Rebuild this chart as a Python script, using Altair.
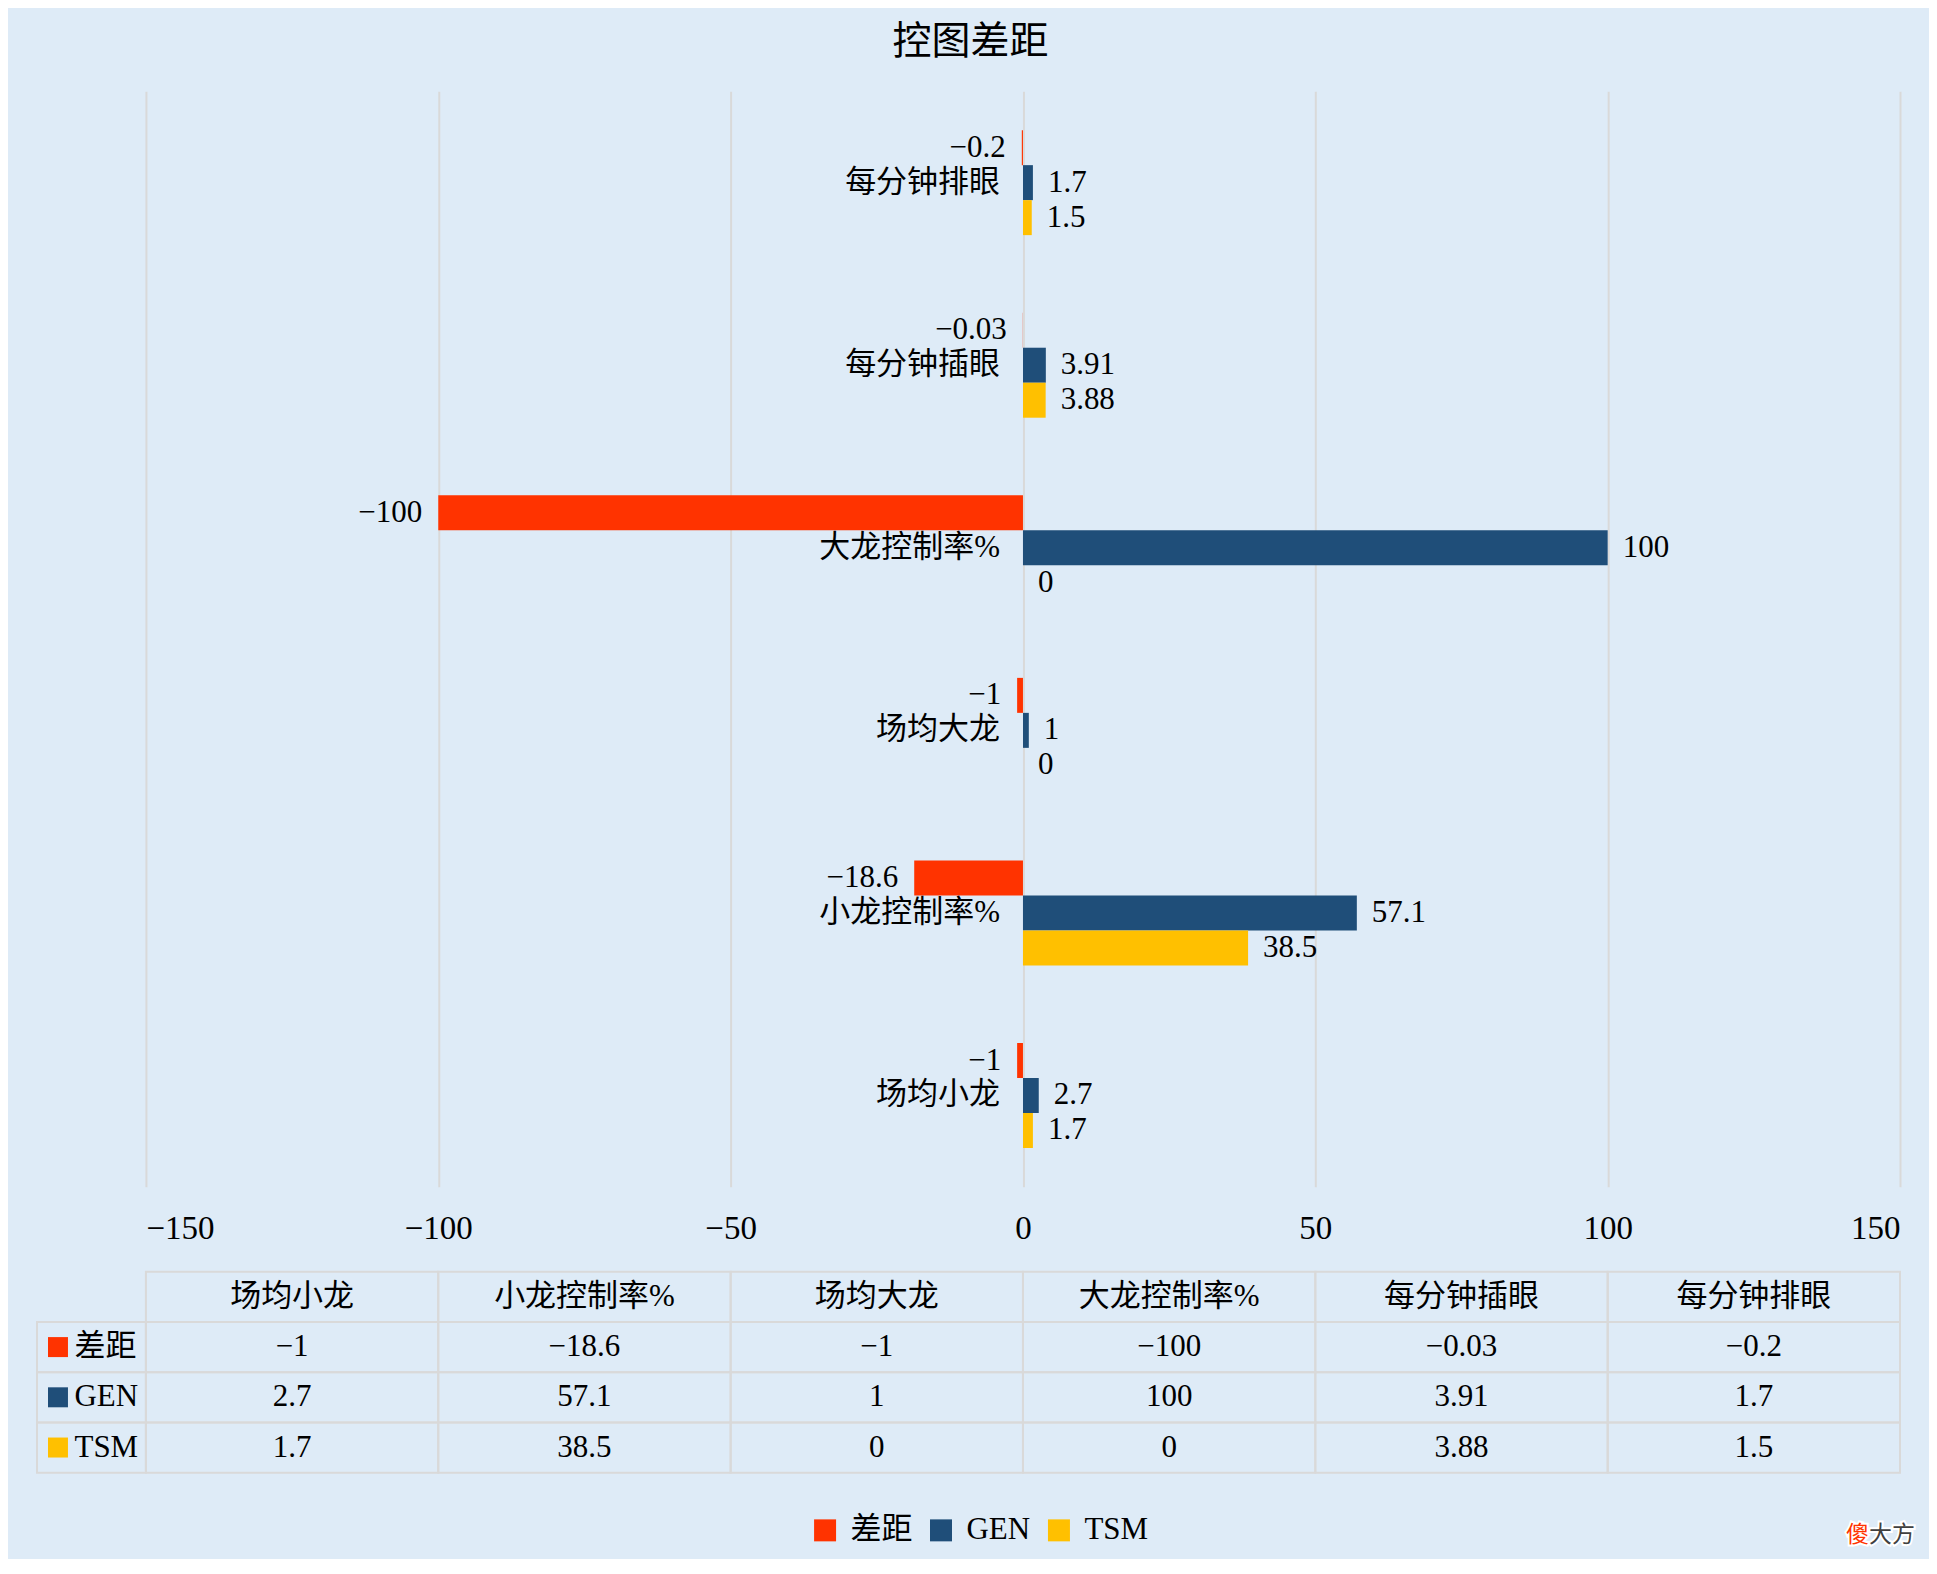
import altair as alt
import pandas as pd

# ---------------- data ----------------
categories = ["场均小龙", "小龙控制率%", "场均大龙", "大龙控制率%", "每分钟插眼", "每分钟排眼"]
series = ["差距", "GEN", "TSM"]
gap_vals = [-1, -18.6, -1, -100, -0.03, -0.2]
gen_vals = [2.7, 57.1, 1, 100, 3.91, 1.7]
tsm_vals = [1.7, 38.5, 0, 0, 3.88, 1.5]
colors = ["#FF3300", "#1F4E79", "#FFC000"]
x_ticks = [-150, -100, -50, 0, 50, 100, 150]
title_text = "控图差距"
watermark = ["傻", "大方"]

FONT = "Liberation Serif, Noto Sans CJK SC"
BG = "#DEEBF7"
GRID = "#D9D9D9"


def fmt(v):
    return f"{v:g}".replace("-", "\u2212")


rows = []
for s, vals in zip(series, [gap_vals, gen_vals, tsm_vals]):
    for c, v in zip(categories, vals):
        rows.append({"category": c, "series": s, "value": v, "label": fmt(v)})
df = pd.DataFrame(rows)

trows = [{"row": "hdr", "category": c, "text": c} for c in categories]
for s, vals in zip(series, [gap_vals, gen_vals, tsm_vals]):
    for c, v in zip(categories, vals):
        trows.append({"row": s, "category": c, "text": fmt(v)})
tdf = pd.DataFrame(trows)
kdf = pd.DataFrame({"row": series, "series": series})

color_scale = alt.Scale(domain=series, range=colors)
legend = alt.Legend(
    title=None, orient="none", legendX=664, legendY=1424, direction="horizontal",
    symbolType="square", symbolSize=484, symbolStrokeWidth=0, labelFontSize=31,
    labelFont=FONT, labelColor="black", labelOffset=10, columnPadding=13, padding=0,
    gridAlign="each",
)
color_enc = alt.Color("series:N", scale=color_scale, legend=legend)

# ---------------- top bar chart ----------------
cat_top = categories[::-1]
y_enc = alt.Y("category:N", sort=cat_top, axis=None,
              scale=alt.Scale(paddingInner=0.425, paddingOuter=0.2125))
yoff = alt.YOffset("series:N", sort=series,
                   scale=alt.Scale(domain=series, paddingInner=0, paddingOuter=0))
x_enc = alt.X("value:Q", scale=alt.Scale(domain=[-150, 150], nice=False, zero=True),
              axis=alt.Axis(values=x_ticks, title=None, grid=True, gridColor=GRID,
                            gridWidth=2, domain=False, ticks=False, labelFontSize=33,
                            labelFont="Liberation Serif", labelPadding=26,
                            labelColor="black"))

base = alt.Chart(df)
bars = base.mark_bar().encode(x=x_enc, y=y_enc, yOffset=yoff, color=color_enc)
neg = base.transform_filter("datum.value < 0").mark_text(
    align="right", baseline="middle", dx=-16, font=FONT, fontSize=31, color="black"
).encode(x="value:Q", y=y_enc, yOffset=yoff, text="label:N")
pos = base.transform_filter("datum.value >= 0").mark_text(
    align="left", baseline="middle", dx=15, font=FONT, fontSize=31, color="black"
).encode(x="value:Q", y=y_enc, yOffset=yoff, text="label:N")
catlab = base.transform_filter("datum.series == 'GEN'").mark_text(
    align="right", baseline="middle", dx=-23, font=FONT, fontSize=31, color="black"
).encode(x=alt.datum(0), y=y_enc, yOffset=yoff, text="category:N")

top = alt.layer(bars, neg, pos, catlab).properties(width=1755, height=1096)

# ---------------- data table ----------------
x_t = alt.X("category:N", sort=categories, axis=None,
            scale=alt.Scale(paddingInner=0, paddingOuter=0))
y_t = alt.Y("row:N", sort=["hdr"] + series,
            scale=alt.Scale(domain=["hdr"] + series, paddingInner=0, paddingOuter=0),
            axis=alt.Axis(title=None, domain=False, ticks=False, grid=False,
                          labelAlign="left", labelPadding=72, labelFontSize=31,
                          labelFont=FONT, labelColor="black",
                          labelExpr="datum.value == 'hdr' ? '' : datum.value"))

cells = alt.Chart(tdf).mark_rect(fill="transparent", stroke=GRID, strokeWidth=2).encode(
    x=x_t, y=y_t)
keycells = alt.Chart(kdf).mark_rect(fill="transparent", stroke=GRID, strokeWidth=2).encode(
    x=alt.value(-109), x2=alt.value(0), y=alt.Y("row:N"))
keysq = alt.Chart(kdf).mark_square(size=400, filled=True, opacity=1).encode(
    x=alt.value(-88), y=alt.Y("row:N"), color=color_enc)
ctext = alt.Chart(tdf).mark_text(font=FONT, fontSize=31, color="black", baseline="middle").encode(
    x=x_t, y=y_t, text="text:N")

wm_df = pd.DataFrame({"t": [watermark[0]], "t2": [watermark[1]]})
WMF = "Noto Sans CJK SC"
wm1h = alt.Chart(wm_df).mark_text(align="left", baseline="middle", font=WMF,
                                  fontSize=23, stroke="white", strokeWidth=4).encode(
    x=alt.value(1701), y=alt.value(263), text="t:N")
wm2h = alt.Chart(wm_df).mark_text(align="left", baseline="middle", font=WMF,
                                  fontSize=23, stroke="white", strokeWidth=4).encode(
    x=alt.value(1724), y=alt.value(263), text="t2:N")
wm1 = alt.Chart(wm_df).mark_text(align="left", baseline="middle", font=WMF,
                                 fontSize=23, color="#FF3300").encode(
    x=alt.value(1701), y=alt.value(263), text="t:N")
wm2 = alt.Chart(wm_df).mark_text(align="left", baseline="middle", font=WMF,
                                 fontSize=23, color="#404040").encode(
    x=alt.value(1724), y=alt.value(263), text="t2:N")

table = alt.layer(cells, keycells, keysq, ctext, wm1h, wm2h, wm1, wm2).properties(
    width=1755, height=201)

chart = alt.vconcat(top, table, spacing=25).properties(
    title=alt.Title(title_text, fontSize=39, font=FONT, fontWeight="normal",
                    color="black", anchor="middle", offset=29, dx=-5),
    padding={"left": 28, "top": 15, "right": 14, "bottom": 12},
    background=BG,
).configure_view(stroke=None)

chart.save("out.html", embed_options={"renderer": "svg", "actions": False})
